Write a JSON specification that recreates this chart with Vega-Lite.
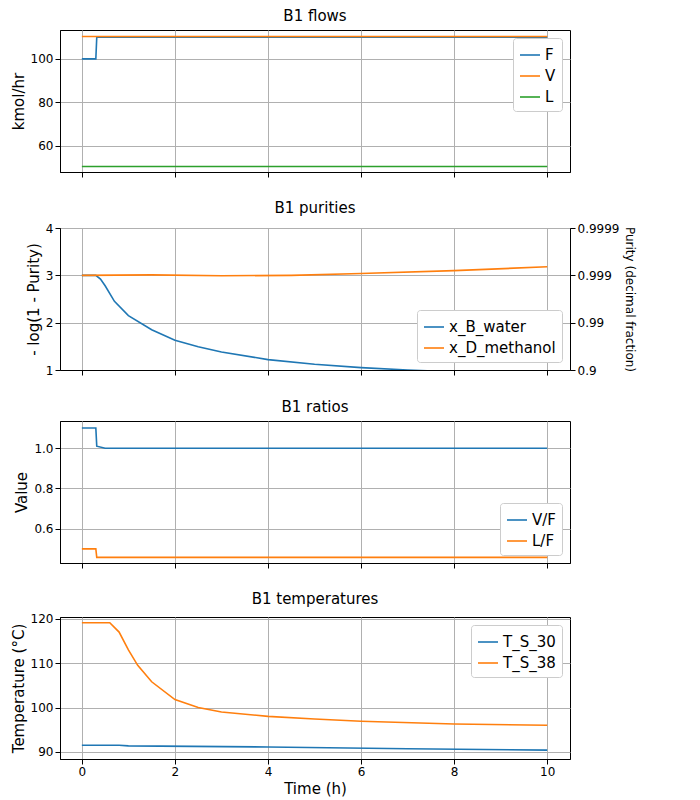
{
  "$schema": "https://vega.github.io/schema/vega-lite/v6.json",
  "padding": {"left": 10, "top": 8, "right": 5, "bottom": 5},
  "config": {
    "font": "DejaVu Sans",
    "view": {"stroke": "black"},
    "axis": {"grid": true, "gridColor": "#b0b0b0", "labelFontSize": 12, "titleFontSize": 15, "titleFontWeight": "normal", "domainColor": "black", "tickColor": "black", "labelColor": "black", "titleColor": "black"},
    "title": {"fontSize": 15, "fontWeight": "normal", "offset": 6},
    "legend": {"labelFontSize": 15, "symbolType": "stroke", "symbolStrokeWidth": 2, "symbolSize": 400, "strokeColor": "#ccc", "fillColor": "white", "padding": 6, "cornerRadius": 3, "title": null},
    "line": {"strokeWidth": 1.6, "clip": true}
  },
  "spacing": 22,
  "datasets": {
    "flows": [
      {"s": "F", "t": 0, "v": 100}, {"s": "F", "t": 0.3, "v": 100}, {"s": "F", "t": 0.32, "v": 110}, {"s": "F", "t": 10, "v": 110},
      {"s": "V", "t": 0, "v": 110.3}, {"s": "V", "t": 10, "v": 110.3},
      {"s": "L", "t": 0, "v": 50.5}, {"s": "L", "t": 10, "v": 50.5}
    ],
    "purities": [
      {"s": "x_B_water", "t": 0, "v": 3}, {"s": "x_B_water", "t": 0.3, "v": 3}, {"s": "x_B_water", "t": 0.4, "v": 2.92},
      {"s": "x_B_water", "t": 0.5, "v": 2.78}, {"s": "x_B_water", "t": 0.7, "v": 2.45}, {"s": "x_B_water", "t": 1.0, "v": 2.15},
      {"s": "x_B_water", "t": 1.5, "v": 1.85}, {"s": "x_B_water", "t": 2, "v": 1.63}, {"s": "x_B_water", "t": 2.5, "v": 1.49},
      {"s": "x_B_water", "t": 3, "v": 1.38}, {"s": "x_B_water", "t": 4, "v": 1.22}, {"s": "x_B_water", "t": 5, "v": 1.12},
      {"s": "x_B_water", "t": 6, "v": 1.05}, {"s": "x_B_water", "t": 7, "v": 1.0}, {"s": "x_B_water", "t": 8, "v": 0.96},
      {"s": "x_B_water", "t": 10, "v": 0.9},
      {"s": "x_D_methanol", "t": 0, "v": 3}, {"s": "x_D_methanol", "t": 1.5, "v": 3.01}, {"s": "x_D_methanol", "t": 3, "v": 2.99},
      {"s": "x_D_methanol", "t": 4.5, "v": 3.0}, {"s": "x_D_methanol", "t": 6, "v": 3.04}, {"s": "x_D_methanol", "t": 8, "v": 3.1},
      {"s": "x_D_methanol", "t": 10, "v": 3.18}
    ],
    "ratios": [
      {"s": "V/F", "t": 0, "v": 1.1}, {"s": "V/F", "t": 0.3, "v": 1.1}, {"s": "V/F", "t": 0.32, "v": 1.01}, {"s": "V/F", "t": 0.5, "v": 1.0}, {"s": "V/F", "t": 10, "v": 1.0},
      {"s": "L/F", "t": 0, "v": 0.5}, {"s": "L/F", "t": 0.3, "v": 0.5}, {"s": "L/F", "t": 0.32, "v": 0.458}, {"s": "L/F", "t": 10, "v": 0.458}
    ],
    "temps": [
      {"s": "T_S_30", "t": 0, "v": 91.5}, {"s": "T_S_30", "t": 0.8, "v": 91.5}, {"s": "T_S_30", "t": 1, "v": 91.35},
      {"s": "T_S_30", "t": 4, "v": 91.1}, {"s": "T_S_30", "t": 7, "v": 90.7}, {"s": "T_S_30", "t": 10, "v": 90.4},
      {"s": "T_S_38", "t": 0, "v": 119.1}, {"s": "T_S_38", "t": 0.6, "v": 119.1}, {"s": "T_S_38", "t": 0.8, "v": 117},
      {"s": "T_S_38", "t": 1.0, "v": 113}, {"s": "T_S_38", "t": 1.2, "v": 109.5}, {"s": "T_S_38", "t": 1.5, "v": 105.8},
      {"s": "T_S_38", "t": 2, "v": 101.8}, {"s": "T_S_38", "t": 2.5, "v": 100}, {"s": "T_S_38", "t": 3, "v": 99},
      {"s": "T_S_38", "t": 4, "v": 98}, {"s": "T_S_38", "t": 5, "v": 97.4}, {"s": "T_S_38", "t": 6, "v": 96.9},
      {"s": "T_S_38", "t": 8, "v": 96.3}, {"s": "T_S_38", "t": 10, "v": 96}
    ]
  },
  "vconcat": [
    {
      "title": "B1 flows", "width": 510, "height": 142,
      "data": {"name": "flows"},
      "mark": {"type": "line", "clip": true},
      "encoding": {
        "x": {"field": "t", "type": "quantitative", "scale": {"domain": [-0.47, 10.49], "nice": false}, "axis": {"labels": false, "title": null, "values": [0, 2, 4, 6, 8, 10]}},
        "y": {"field": "v", "type": "quantitative", "scale": {"domain": [48, 113.3], "nice": false, "zero": false}, "axis": {"title": "kmol/hr", "values": [60, 80, 100]}},
        "color": {"field": "s", "type": "nominal", "sort": ["F", "V", "L"], "scale": {"domain": ["F", "V", "L"], "range": ["#1f77b4", "#ff7f0e", "#2ca02c"]}, "legend": {"orient": "top-right", "offset": 8}}
      }
    },
    {
      "title": "B1 purities", "width": 510, "height": 142,
      "data": {"name": "purities"},
      "layer": [
        {
          "mark": {"type": "line", "clip": true},
          "encoding": {
            "x": {"field": "t", "type": "quantitative", "scale": {"domain": [-0.47, 10.49], "nice": false}, "axis": {"labels": false, "title": null, "values": [0, 2, 4, 6, 8, 10]}},
            "y": {"field": "v", "type": "quantitative", "scale": {"domain": [1, 4], "nice": false, "zero": false}, "axis": {"title": "- log(1 - Purity)", "values": [1, 2, 3, 4], "format": "d"}},
            "color": {"field": "s", "type": "nominal", "scale": {"range": ["#1f77b4", "#ff7f0e"]}, "legend": {"orient": "bottom-right", "offset": 8}}
          }
        },
        {
          "mark": {"type": "line", "opacity": 0, "clip": true},
          "encoding": {
            "x": {"field": "t", "type": "quantitative"},
            "y": {"field": "v", "type": "quantitative", "scale": {"domain": [1, 4], "nice": false, "zero": false}, "axis": {"orient": "right", "grid": false, "title": "Purity (decimal fraction)", "titleFontSize": 12, "values": [1, 2, 3, 4], "labelExpr": "datum.value == 1 ? '0.9' : datum.value == 2 ? '0.99' : datum.value == 3 ? '0.999' : '0.9999'"}}
          }
        }
      ],
      "resolve": {"scale": {"y": "independent"}}
    },
    {
      "title": "B1 ratios", "width": 510, "height": 142,
      "data": {"name": "ratios"},
      "mark": {"type": "line", "clip": true},
      "encoding": {
        "x": {"field": "t", "type": "quantitative", "scale": {"domain": [-0.47, 10.49], "nice": false}, "axis": {"labels": false, "title": null, "values": [0, 2, 4, 6, 8, 10]}},
        "y": {"field": "v", "type": "quantitative", "scale": {"domain": [0.43, 1.135], "nice": false, "zero": false}, "axis": {"title": "Value", "values": [0.6, 0.8, 1.0], "format": ".1f"}},
        "color": {"field": "s", "type": "nominal", "sort": ["V/F", "L/F"], "scale": {"domain": ["V/F", "L/F"], "range": ["#1f77b4", "#ff7f0e"]}, "legend": {"orient": "bottom-right", "offset": 8}}
      }
    },
    {
      "title": "B1 temperatures", "width": 510, "height": 142,
      "data": {"name": "temps"},
      "mark": {"type": "line", "clip": true},
      "encoding": {
        "x": {"field": "t", "type": "quantitative", "scale": {"domain": [-0.47, 10.49], "nice": false}, "axis": {"title": "Time (h)", "values": [0, 2, 4, 6, 8, 10]}},
        "y": {"field": "v", "type": "quantitative", "scale": {"domain": [88.4, 120.4], "nice": false, "zero": false}, "axis": {"title": "Temperature (°C)", "values": [90, 100, 110, 120]}},
        "color": {"field": "s", "type": "nominal", "scale": {"range": ["#1f77b4", "#ff7f0e"]}, "legend": {"orient": "top-right", "offset": 8}}
      }
    }
  ],
  "resolve": {"scale": {"color": "independent"}, "legend": {"color": "independent"}}
}
